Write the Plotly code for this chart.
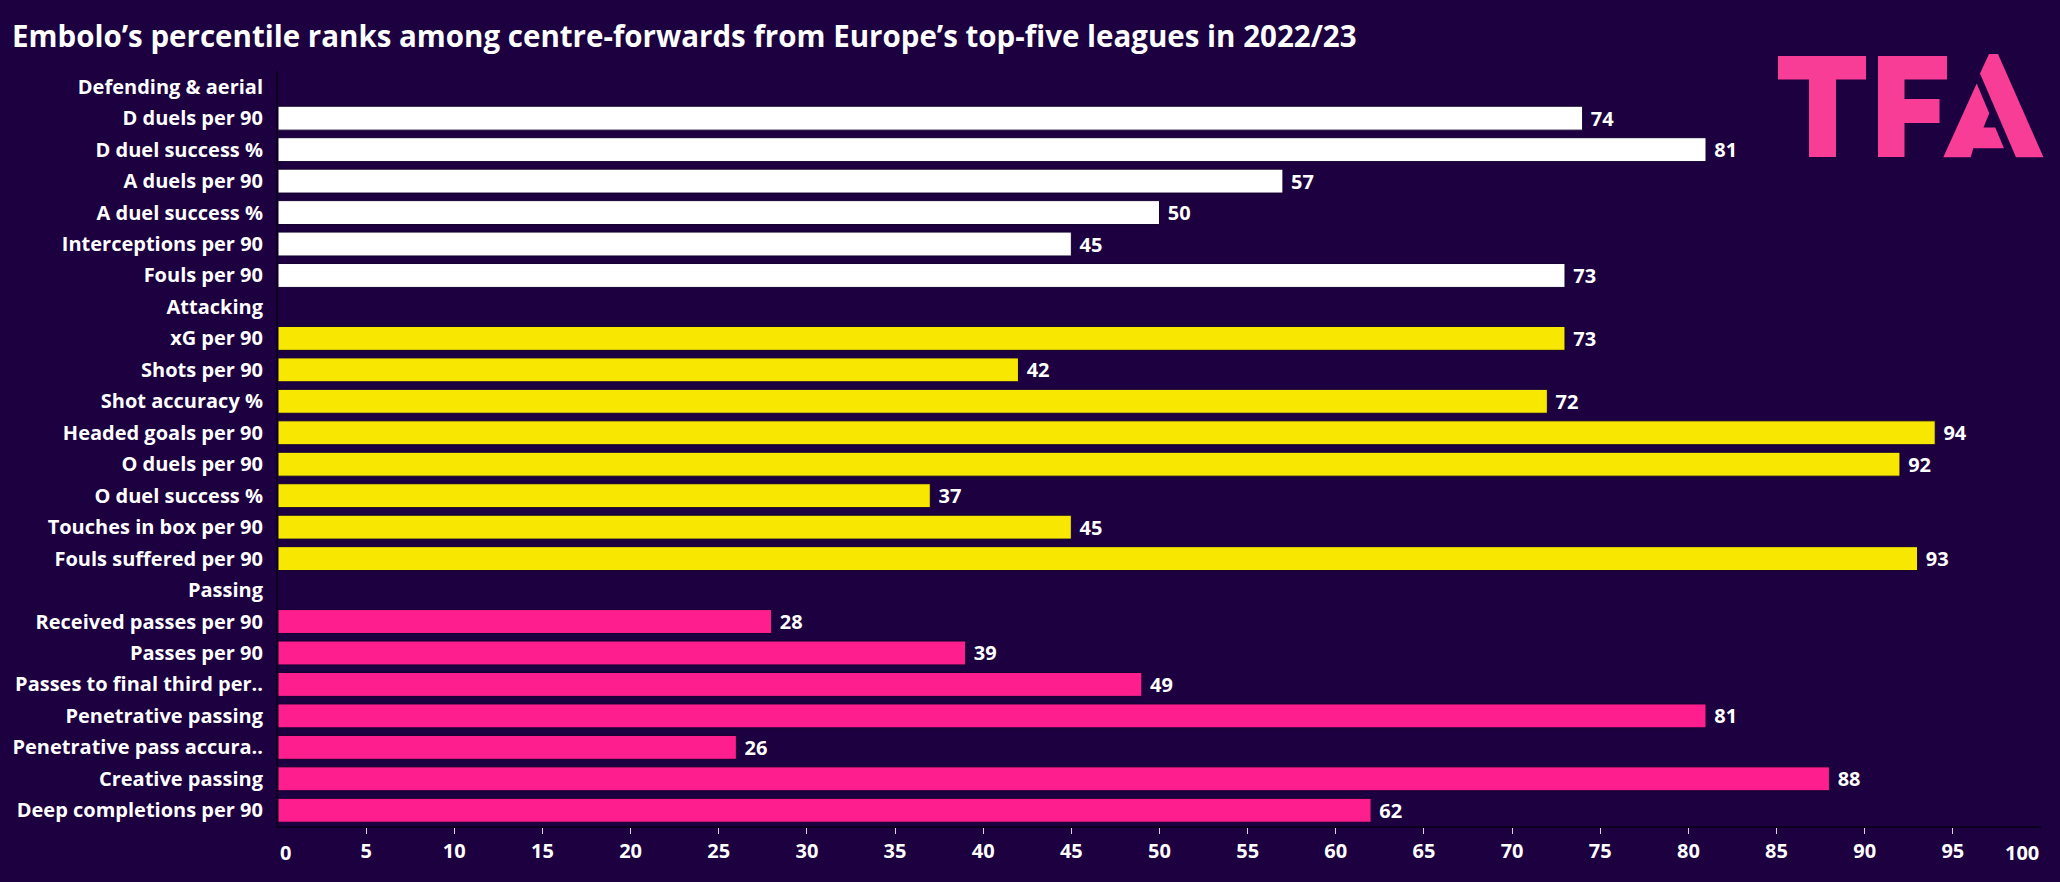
import plotly.graph_objects as go

W, H = 2060, 882
ML, MR, MT, MB = 278, 19, 71, 56

BG = "#1c003f"
WHITE = "#ffffff"
YELLOW = "#f8e700"
PINK = "#ff1e8e"
LOGO = "#f73d96"

# ---- data ----
header_def = "Defending & aerial"
def_labels = ["D duels per 90", "D duel success %", "A duels per 90", "A duel success %",
              "Interceptions per 90", "Fouls per 90"]
def_values = [74, 81, 57, 50, 45, 73]

header_att = "Attacking"
att_labels = ["xG per 90", "Shots per 90", "Shot accuracy %", "Headed goals per 90",
              "O duels per 90", "O duel success %", "Touches in box per 90", "Fouls suffered per 90"]
att_values = [73, 42, 72, 94, 92, 37, 45, 93]

header_pas = "Passing"
pas_labels = ["Received passes per 90", "Passes per 90", "Passes to final third per..",
              "Penetrative passing", "Penetrative pass accura..", "Creative passing",
              "Deep completions per 90"]
pas_values = [28, 39, 49, 81, 26, 88, 62]

x_ticks = list(range(5, 100, 5))

categories = [header_def] + def_labels + [header_att] + att_labels + [header_pas] + pas_labels

title = "Embolo’s percentile ranks among centre-forwards from Europe’s top-five leagues in 2022/23"

FONT = "Open Sans"
FS = 20

fig = go.Figure()
for labels, values, color in [(def_labels, def_values, WHITE),
                              (att_labels, att_values, YELLOW),
                              (pas_labels, pas_values, PINK)]:
    fig.add_trace(go.Bar(
        x=values, y=labels, orientation="h",
        marker=dict(color=color, line=dict(width=1, color="#140030")),
        text=[str(v) for v in values],
        texttemplate=" %{text}",
        textposition="outside",
        textfont=dict(color="white", size=FS, family=FONT, weight="bold"),
        cliponaxis=False,
        showlegend=False,
        hoverinfo="skip",
    ))

fig.update_layout(
    width=W, height=H,
    margin=dict(l=ML, r=MR, t=MT, b=MB),
    paper_bgcolor=BG, plot_bgcolor=BG,
    bargap=0.24,
    barmode="overlay",
    uniformtext=dict(minsize=FS, mode="show"),
    font=dict(family=FONT, color="white"),
    title=dict(text=title, x=12 / W, xanchor="left", y=1 - 37 / H, yanchor="middle",
               font=dict(size=29.5, family=FONT, color="white", weight="bold")),
)

fig.update_yaxes(
    type="category", categoryorder="array", categoryarray=categories,
    range=[len(categories) - 0.5, -0.5],
    showgrid=False, zeroline=False,
    showline=True, linecolor="#0c0020", linewidth=2,
    ticks="", ticklabelstandoff=9,
    tickfont=dict(size=FS, family=FONT, color="white", weight="bold"),
)
fig.update_xaxes(
    range=[0, 100],
    tickvals=x_ticks, ticktext=[str(v) for v in x_ticks],
    showgrid=False, zeroline=False,
    showline=True, linecolor="#0c0020", linewidth=2,
    ticks="outside", ticklen=6, tickwidth=1, tickcolor="#d8d2e0",
    tickfont=dict(size=FS, family=FONT, color="white", weight="bold"),
)

# end labels of the axis, aligned inside the axis span like the reference
for v, anchor in [(0, "left"), (100, "right")]:
    fig.add_annotation(x=v, y=0, xref="x", yref="paper", text=str(v), showarrow=False,
                       xanchor=anchor, yanchor="top", yshift=-11,
                       font=dict(size=FS, family=FONT, color="white", weight="bold"))

# ---- TFA logo (pixel coords converted to paper) ----
PW = W - ML - MR
PH = H - MT - MB


def px(x):
    return (x - ML) / PW


def py(y):
    return 1 - (y - MT) / PH


def poly(points, color):
    d = "M " + " L ".join(f"{px(x):.5f},{py(y):.5f}" for x, y in points) + " Z"
    fig.add_shape(type="path", path=d, xref="paper", yref="paper",
                  fillcolor=color, line=dict(width=0), layer="above")


def rect(x0, y0, x1, y1, color):
    poly([(x0, y0), (x1, y0), (x1, y1), (x0, y1)], color)


# T
rect(1778, 56, 1866, 79.5, LOGO)
rect(1809, 79, 1836, 157, LOGO)
# F
rect(1878, 56, 1947, 79.5, LOGO)
rect(1878, 56, 1904.5, 157, LOGO)
rect(1904, 99, 1939.5, 123, LOGO)
# A right stroke
poly([(1980, 73.5), (1989, 54), (1998, 54), (2043.5, 157.3), (2016, 157.3)], LOGO)
# A left piece
poly([(1943.3, 157.3), (1976.7, 83.5), (2004, 148.3), (1973.3, 148.3), (1970.7, 157.3)], LOGO)
# A counter
poly([(1983.5, 127.5), (1997, 127.5), (1990, 111.5)], BG)

fig.write_html("out.html")
